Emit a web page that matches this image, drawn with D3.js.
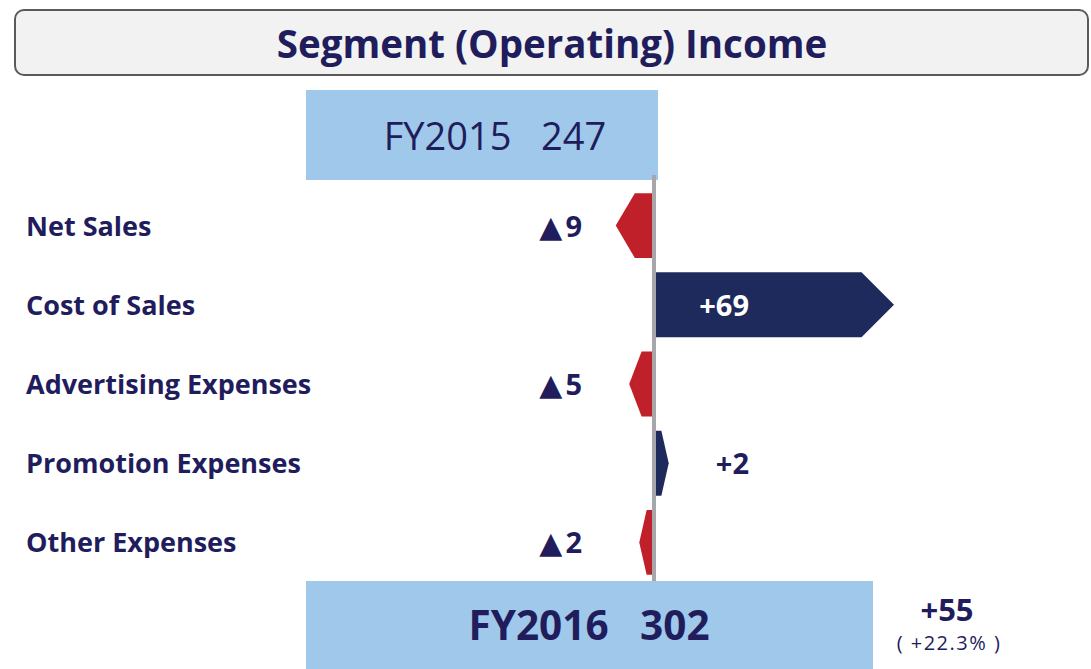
<!DOCTYPE html>
<html><head><meta charset="utf-8">
<script src="https://cdn.jsdelivr.net/npm/d3@7/dist/d3.min.js"></script>
<style>html,body{margin:0;padding:0;background:#fff;}svg{display:block;}</style>
</head><body>
<script>
const title = "Segment (Operating) Income";
const categories = ["Net Sales","Cost of Sales","Advertising Expenses","Promotion Expenses","Other Expenses"];
const values = [-9, 69, -5, 2, -2];
const startLabel = "FY2015", startValue = 247;
const endLabel = "FY2016", endValue = 302;
const changeValue = 55, changePct = 22.3;

const W = 1091, H = 669;
const navy = "#211d5c", barBlue = "#1f2a5c", red = "#c0202a", light = "#9fc8ea";
const font = "'Open Sans', sans-serif";

const svg = d3.select("body").append("svg").attr("width", W).attr("height", H);

// title box
svg.append("rect").attr("x", 15).attr("y", 10).attr("width", 1073).attr("height", 65).attr("rx", 9)
  .attr("fill", "#f2f2f2").attr("stroke", "#5a5a5a").attr("stroke-width", 2);
svg.append("text").attr("x", 552).attr("y", 58).attr("text-anchor", "middle")
  .attr("font-family", font).attr("font-weight", 700).attr("font-size", 38.5).attr("fill", navy).text(title);

const axisX = 654;
const y = d3.scaleBand().domain(categories).range([186, 582]).paddingInner(0.18).paddingOuter(0.09);
const len = d3.scaleLinear().domain([0, 69]).range([8, 240]);
const totalX = d3.scaleLinear().domain([startValue, endValue]).range([658, 873]);
const totalLeft = 306;

// start total bar
svg.append("rect").attr("x", totalLeft).attr("y", 90).attr("width", totalX(startValue) - totalLeft).attr("height", 90).attr("fill", light);
svg.append("text").attr("x", 495).attr("y", 150).attr("text-anchor", "middle")
  .attr("font-family", font).attr("font-size", 38).attr("fill", navy).attr("xml:space", "preserve")
  .text(startLabel + "   " + startValue);

// category labels
svg.selectAll(".cat").data(categories).join("text").attr("class", "cat")
  .attr("x", 26).attr("y", d => y(d) + y.bandwidth() / 2 + 10)
  .attr("font-family", font).attr("font-weight", 700).attr("font-size", 27).attr("fill", navy).text(d => d);

// arrows
const rows = categories.map((c, i) => ({ c, v: values[i] }));
const bh = y.bandwidth();
function arrowPath(d) {
  const L = len(Math.abs(d.v));
  const head = Math.min(bh / 2, L * 0.5);
  const s = d.v < 0 ? -1 : 1;
  const x0 = axisX, y0 = y(d.c), y1 = y0 + bh, ym = y0 + bh / 2;
  const xb = x0 + s * (L - head), xt = x0 + s * L;
  return `M${x0},${y0}L${xb},${y0}L${xt},${ym}L${xb},${y1}L${x0},${y1}Z`;
}
svg.selectAll(".arrow").data(rows).join("path").attr("class", "arrow")
  .attr("d", arrowPath).attr("fill", d => d.v < 0 ? red : barBlue);

// value labels
const vl = svg.selectAll(".val").data(rows).join("text").attr("class", "val")
  .attr("x", d => d.v < 0 ? axisX - 72 : axisX + 95)
  .attr("y", d => y(d.c) + bh / 2 + 11)
  .attr("text-anchor", "end")
  .attr("font-family", font).attr("font-weight", 700).attr("font-size", 29)
  .attr("fill", d => (d.v > 0 && len(d.v) > 100) ? "#fff" : navy);
vl.each(function(d) {
  const t = d3.select(this);
  if (d.v < 0) {
    t.append("tspan").attr("font-family", "'DejaVu Sans', sans-serif").attr("font-size", 30).text("▲");
    t.append("tspan").attr("dx", 3).text(Math.abs(d.v));
  } else {
    t.text("+" + d.v);
  }
});

// axis line
svg.append("line").attr("x1", axisX).attr("x2", axisX).attr("y1", 175).attr("y2", 582)
  .attr("stroke", "#a6a6ab").attr("stroke-width", 4);

// end total bar
svg.append("rect").attr("x", totalLeft).attr("y", 581).attr("width", totalX(endValue) - totalLeft).attr("height", 90).attr("fill", light);
svg.append("text").attr("x", 589).attr("y", 640).attr("text-anchor", "middle")
  .attr("font-family", font).attr("font-weight", 700).attr("font-size", 40.5).attr("fill", navy).attr("xml:space", "preserve")
  .text(endLabel + "   " + endValue);

svg.append("text").attr("x", 947).attr("y", 621).attr("text-anchor", "middle")
  .attr("font-family", font).attr("font-weight", 700).attr("font-size", 31).attr("fill", navy).text("+" + changeValue);
svg.append("text").attr("x", 949).attr("y", 650).attr("text-anchor", "middle")
  .attr("font-family", font).attr("font-size", 20).attr("letter-spacing", 1.5).attr("fill", navy)
  .attr("xml:space", "preserve").text("( +" + changePct + "% )");
</script>
</body></html>
